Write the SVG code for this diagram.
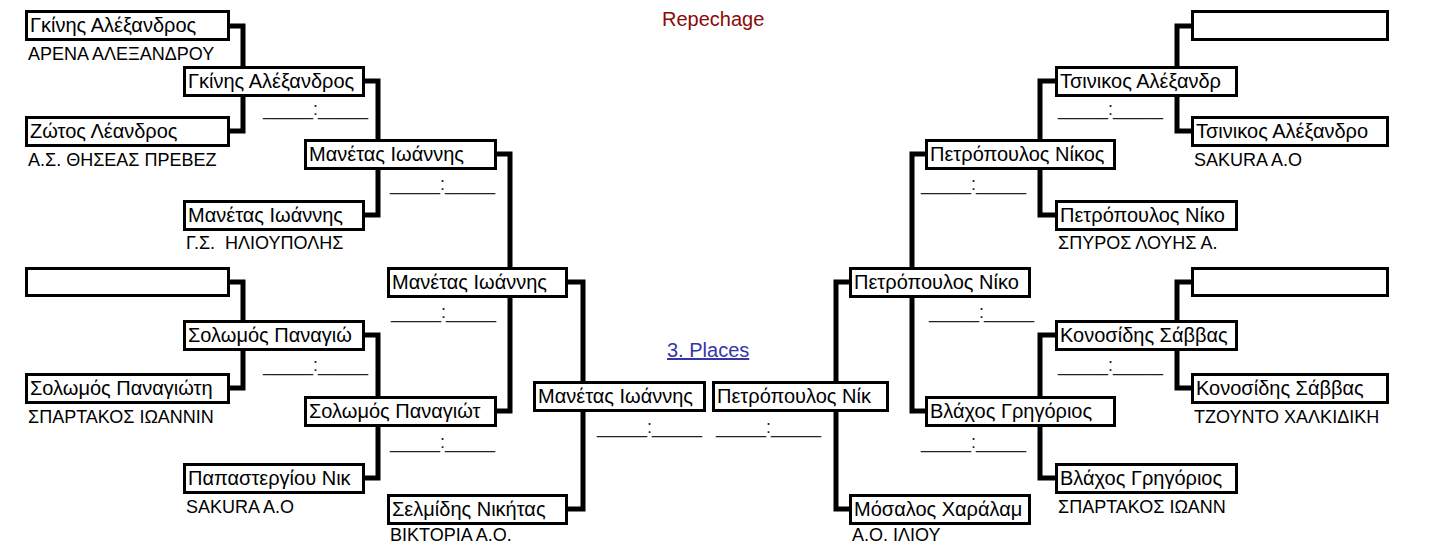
<svg xmlns="http://www.w3.org/2000/svg" width="1438" height="544" viewBox="0 0 1438 544">
<style>
.box{fill:#fff;stroke:#000;stroke-width:3}
.nm{font-family:"Liberation Sans",Arial,sans-serif;font-size:20px;fill:#000}
.cl{font-family:"Liberation Sans",Arial,sans-serif;font-size:18px;fill:#000;white-space:pre}
.sc{font-family:"Liberation Sans",Arial,sans-serif;font-size:18px;fill:#222}
.con{fill:none;stroke:#000;stroke-width:5;stroke-linejoin:miter}
</style>
<rect width="1438" height="544" fill="#fff"/>
<text x="662" y="26" style="font-family:'Liberation Sans',Arial,sans-serif;font-size:20px;fill:#8b0a0a">Repechage</text>
<text x="667" y="357" style="font-family:'Liberation Sans',Arial,sans-serif;font-size:20px;fill:#3535a8;text-decoration:underline">3. Places</text>
<g id="connectors">
<path class="con" d="M226,26 H243 V131 H226"/>
<path class="con" d="M361,81 H378 V215 H361"/>
<path class="con" d="M493,154 H510 V411 H493"/>
<path class="con" d="M226,282 H243 V388 H226"/>
<path class="con" d="M361,335 H378 V478 H361"/>
<path class="con" d="M564,282 H583 V509 H564"/>
<path class="con" d="M1195,26 H1177 V131 H1195"/>
<path class="con" d="M1059,81 H1040 V215 H1059"/>
<path class="con" d="M929,154 H912 V411 H929"/>
<path class="con" d="M1195,282 H1177 V388 H1195"/>
<path class="con" d="M1059,335 H1040 V478 H1059"/>
<path class="con" d="M853,282 H836 V509 H853"/>
</g>
<g id="scores">
<text class="sc" x="263" y="115">_____:_____</text>
<text class="sc" x="390" y="190">_____:_____</text>
<text class="sc" x="391" y="318">_____:_____</text>
<text class="sc" x="263" y="371">_____:_____</text>
<text class="sc" x="390" y="448">_____:_____</text>
<text class="sc" x="597" y="433">_____:_____</text>
<text class="sc" x="716" y="433">_____:_____</text>
<text class="sc" x="1058" y="115">_____:_____</text>
<text class="sc" x="921" y="190">_____:_____</text>
<text class="sc" x="929" y="318">_____:_____</text>
<text class="sc" x="1058" y="371">_____:_____</text>
<text class="sc" x="921" y="448">_____:_____</text>
</g>
<g id="L1a"><rect class="box" x="26.5" y="11.5" width="202" height="28"/><text class="nm" x="30" y="32">Γκίνης Αλέξανδρος</text><text class="cl" x="28" y="60">ΑΡΕΝΑ ΑΛΕΞΑΝΔΡΟΥ</text></g>
<g id="L1b"><rect class="box" x="26.5" y="117.5" width="202" height="28"/><text class="nm" x="30" y="138">Ζώτος Λέανδρος</text><text class="cl" x="28" y="166">Α.Σ. ΘΗΣΕΑΣ ΠΡΕΒΕΖ</text></g>
<g id="L1c"><rect class="box" x="26.5" y="268.5" width="202" height="27"/></g>
<g id="L1d"><rect class="box" x="26.5" y="374.5" width="202" height="28"/><text class="nm" x="30" y="395">Σολωμός Παναγιώτη</text><text class="cl" x="28" y="423">ΣΠΑΡΤΑΚΟΣ ΙΩΑΝΝΙΝ</text></g>
<g id="L2a"><rect class="box" x="184.5" y="67.5" width="179" height="28"/><text class="nm" x="188" y="88">Γκίνης Αλέξανδρος</text></g>
<g id="L2b"><rect class="box" x="184.5" y="201.5" width="179" height="28"/><text class="nm" x="188" y="222">Μανέτας Ιωάννης</text><text class="cl" x="186" y="249">Γ.Σ.  ΗΛΙΟΥΠΟΛΗΣ</text></g>
<g id="L2c"><rect class="box" x="184.5" y="321.5" width="179" height="28"/><text class="nm" x="188" y="342">Σολωμός Παναγιώ</text></g>
<g id="L2d"><rect class="box" x="184.5" y="464.5" width="179" height="28"/><text class="nm" x="188" y="485">Παπαστεργίου Νικ</text><text class="cl" x="186" y="513">SAKURA A.O</text></g>
<g id="L3a"><rect class="box" x="305.5" y="140.5" width="190" height="28"/><text class="nm" x="309" y="161">Μανέτας Ιωάννης</text></g>
<g id="L3b"><rect class="box" x="305.5" y="397.5" width="190" height="28"/><text class="nm" x="309" y="418">Σολωμός Παναγιώτ</text></g>
<g id="L4a"><rect class="box" x="388.5" y="268.5" width="178" height="28"/><text class="nm" x="392" y="289">Μανέτας Ιωάννης</text></g>
<g id="L4b"><rect class="box" x="388.5" y="495.5" width="178" height="28"/><text class="nm" x="392" y="516">Σελμίδης Νικήτας</text><text class="cl" x="390" y="541">ΒΙΚΤΟΡΙΑ Α.Ο.</text></g>
<g id="L5"><rect class="box" x="534.5" y="382.5" width="170" height="28"/><text class="nm" x="538" y="403">Μανέτας Ιωάννης</text></g>
<g id="R5"><rect class="box" x="713.5" y="382.5" width="174" height="28"/><text class="nm" x="717" y="403">Πετρόπουλος Νίκ</text></g>
<g id="R4a"><rect class="box" x="850.5" y="268.5" width="179" height="28"/><text class="nm" x="854" y="289">Πετρόπουλος Νίκο</text></g>
<g id="R4b"><rect class="box" x="850.5" y="495.5" width="179" height="28"/><text class="nm" x="854" y="516">Μόσαλος Χαράλαμ</text><text class="cl" x="852" y="541">Α.Ο. ΙΛΙΟΥ</text></g>
<g id="R3a"><rect class="box" x="926.5" y="140.5" width="188" height="28"/><text class="nm" x="930" y="161">Πετρόπουλος Νίκος</text></g>
<g id="R3b"><rect class="box" x="926.5" y="397.5" width="188" height="28"/><text class="nm" x="930" y="418">Βλάχος Γρηγόριος</text></g>
<g id="R2a"><rect class="box" x="1056.5" y="67.5" width="180" height="28"/><text class="nm" x="1060" y="88">Τσινικος Αλέξανδρ</text></g>
<g id="R2b"><rect class="box" x="1056.5" y="201.5" width="180" height="28"/><text class="nm" x="1060" y="222">Πετρόπουλος Νίκο</text><text class="cl" x="1058" y="249">ΣΠΥΡΟΣ ΛΟΥΗΣ Α.</text></g>
<g id="R2c"><rect class="box" x="1056.5" y="321.5" width="180" height="28"/><text class="nm" x="1060" y="342">Κονοσίδης Σάββας</text></g>
<g id="R2d"><rect class="box" x="1056.5" y="464.5" width="180" height="28"/><text class="nm" x="1060" y="485">Βλάχος Γρηγόριος</text><text class="cl" x="1058" y="513">ΣΠΑΡΤΑΚΟΣ ΙΩΑΝΝ</text></g>
<g id="R1a"><rect class="box" x="1192.5" y="11.5" width="195" height="28"/></g>
<g id="R1b"><rect class="box" x="1192.5" y="117.5" width="195" height="28"/><text class="nm" x="1196" y="138">Τσινικος Αλέξανδρο</text><text class="cl" x="1194" y="166">SAKURA A.O</text></g>
<g id="R1c"><rect class="box" x="1192.5" y="268.5" width="195" height="27"/></g>
<g id="R1d"><rect class="box" x="1192.5" y="374.5" width="195" height="28"/><text class="nm" x="1196" y="395">Κονοσίδης Σάββας</text><text class="cl" x="1194" y="423">ΤΖΟΥΝΤΟ ΧΑΛΚΙΔΙΚΗ</text></g>
</svg>
